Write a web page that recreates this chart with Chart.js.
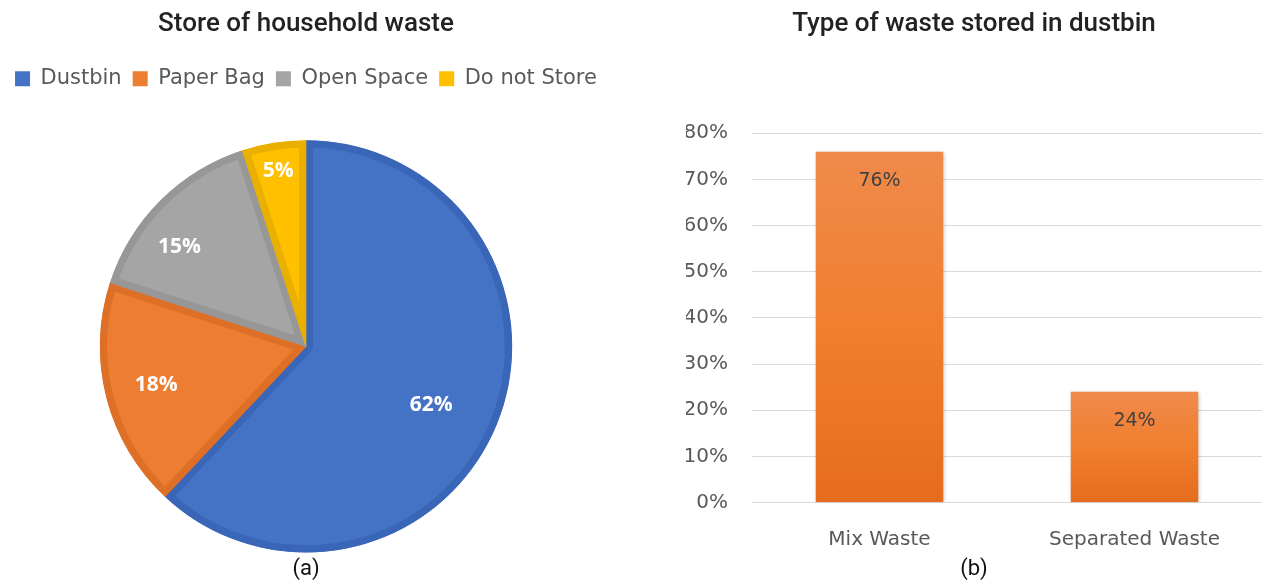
<!DOCTYPE html>
<html>
<head>
<meta charset="utf-8">
<script src="https://cdn.jsdelivr.net/npm/chart.js@4"></script>
<style>
  body { margin: 0; background: #fff; }
  #pieBox { position: absolute; left: 0; top: 0; width: 612px; height: 585px; }
  #barBox { position: absolute; left: 650px; top: 0; width: 614px; height: 585px; }
</style>
</head>
<body>
<div id="pieBox"><canvas id="storeChart"></canvas></div>
<div id="barBox"><canvas id="typeChart"></canvas></div>
<script>
// data for (a)
const storeLabels = ['Dustbin', 'Paper Bag', 'Open Space', 'Do not Store'];
const storeValues = [62, 18, 15, 5];
// data for (b)
const typeLabels = ['Mix Waste', 'Separated Waste'];
const typeValues = [76, 24];
const yTicks = [0, 10, 20, 30, 40, 50, 60, 70, 80];

const pieFill = ['#4472c4', '#ed7d31', '#a5a5a5', '#ffc000'];
const pieEdge = ['#3a66b8', '#dd6f26', '#979797', '#eab000'];
const labelRadius = [0.67, 0.75, 0.78, 0.86];
const labelTurn = [0.06, 0, -0.12, 0];

// pushes the pie down below the legend
const legendGap = {
  id: 'legendGap',
  beforeInit(chart) {
    const fit = chart.legend.fit;
    chart.legend.fit = function () {
      fit.call(this);
      this.height += 41;
    };
  }
};

// percentage text on each slice
const sliceText = {
  id: 'sliceText',
  afterDatasetsDraw(chart) {
    const ctx = chart.ctx;
    const meta = chart.getDatasetMeta(0);
    ctx.save();
    ctx.font = 'bold 21px "Open Sans"';
    ctx.fillStyle = '#ffffff';
    ctx.textAlign = 'center';
    ctx.textBaseline = 'middle';
    meta.data.forEach((arc, i) => {
      const mid = (arc.startAngle + arc.endAngle) / 2 + labelTurn[i];
      const r = arc.outerRadius * labelRadius[i];
      ctx.fillText(storeValues[i] + '%', arc.x + Math.cos(mid) * r, arc.y + Math.sin(mid) * r);
    });
    ctx.restore();
  }
};

new Chart(document.getElementById('storeChart'), {
  type: 'pie',
  data: {
    labels: storeLabels,
    datasets: [{
      data: storeValues,
      backgroundColor: pieFill,
      borderColor: pieEdge,
      borderWidth: 7,
      borderAlign: 'inner'
    }]
  },
  options: {
    responsive: true,
    maintainAspectRatio: false,
    animation: false,
    plugins: {
      title: {
        display: true,
        text: 'Store of household waste',
        color: '#222',
        font: { family: 'Roboto', size: 26, weight: '500' },
        padding: { top: 9, bottom: 17 }
      },
      subtitle: {
        display: true,
        position: 'bottom',
        text: '(a)',
        color: '#111',
        font: { family: 'Roboto', size: 22, weight: 'normal' },
        padding: { top: 4, bottom: 2 }
      },
      legend: {
        position: 'top',
        labels: {
          boxWidth: 15,
          boxHeight: 15,
          color: '#595959',
          font: { family: 'DejaVu Sans', size: 21 },
          padding: 11,
          generateLabels(chart) {
            return Chart.overrides.pie.plugins.legend.labels.generateLabels(chart).map(item => {
              item.lineWidth = 0;
              item.strokeStyle = item.fillStyle;
              return item;
            });
          }
        }
      },
      tooltip: { enabled: false }
    }
  },
  plugins: [legendGap, sliceText]
});

// value text near the top inside each bar
const barText = {
  id: 'barText',
  afterDatasetsDraw(chart) {
    const ctx = chart.ctx;
    const meta = chart.getDatasetMeta(0);
    ctx.save();
    ctx.font = '19px "DejaVu Sans"';
    ctx.fillStyle = '#404040';
    ctx.textAlign = 'center';
    ctx.textBaseline = 'middle';
    meta.data.forEach((bar, i) => {
      ctx.fillText(typeValues[i] + '%', bar.x, bar.y + 29);
    });
    ctx.restore();
  }
};

// soft shadow around the bars
const barShadow = {
  id: 'barShadow',
  beforeDatasetDraw(chart) {
    const ctx = chart.ctx;
    ctx.save();
    ctx.shadowColor = 'rgba(0, 0, 0, 0.22)';
    ctx.shadowBlur = 4;
    ctx.shadowOffsetX = 1;
    ctx.shadowOffsetY = 1;
  },
  afterDatasetDraw(chart) {
    chart.ctx.restore();
  }
};

function barGradient(context) {
  const chart = context.chart;
  const area = chart.chartArea;
  if (!area || context.parsed == null) return '#ee7d35';
  const yScale = chart.scales.y;
  const top = yScale.getPixelForValue(context.parsed.y);
  const base = yScale.getPixelForValue(0);
  const g = chart.ctx.createLinearGradient(0, top, 0, base);
  g.addColorStop(0, '#f08a4b');
  g.addColorStop(0.5, '#f07f2e');
  g.addColorStop(1, '#e56c1c');
  return g;
}

new Chart(document.getElementById('typeChart'), {
  type: 'bar',
  data: {
    labels: typeLabels,
    datasets: [{
      data: typeValues,
      backgroundColor: barGradient,
      categoryPercentage: 1,
      barPercentage: 0.5
    }]
  },
  options: {
    responsive: true,
    maintainAspectRatio: false,
    animation: false,
    layout: { padding: { left: 36, right: 2 } },
    scales: {
      x: {
        afterFit(scale) { scale.height = 47; },
        grid: { display: false, drawTicks: false },
        border: { display: false },
        ticks: {
          color: '#595959',
          font: { family: 'DejaVu Sans', size: 20 },
          padding: 25
        }
      },
      y: {
        min: 0,
        max: 80,
        afterBuildTicks(scale) {
          scale.ticks = yTicks.map(v => ({ value: v }));
        },
        afterFit(scale) { scale.width = 66; },
        grid: { color: '#d9d9d9', drawTicks: false },
        border: { display: false },
        ticks: {
          color: '#595959',
          font: { family: 'DejaVu Sans', size: 20 },
          padding: 24,
          callback: v => v + '%'
        }
      }
    },
    plugins: {
      title: {
        display: true,
        text: 'Type of waste stored in dustbin',
        color: '#222',
        font: { family: 'Roboto', size: 26, weight: '500' },
        padding: { top: 9, bottom: 93 }
      },
      subtitle: {
        display: true,
        position: 'bottom',
        text: '(b)',
        color: '#111',
        font: { family: 'Roboto', size: 22, weight: 'normal' },
        padding: { top: 7, bottom: 2 }
      },
      legend: { display: false },
      tooltip: { enabled: false }
    }
  },
  plugins: [barShadow, barText]
});
</script>
</body>
</html>
